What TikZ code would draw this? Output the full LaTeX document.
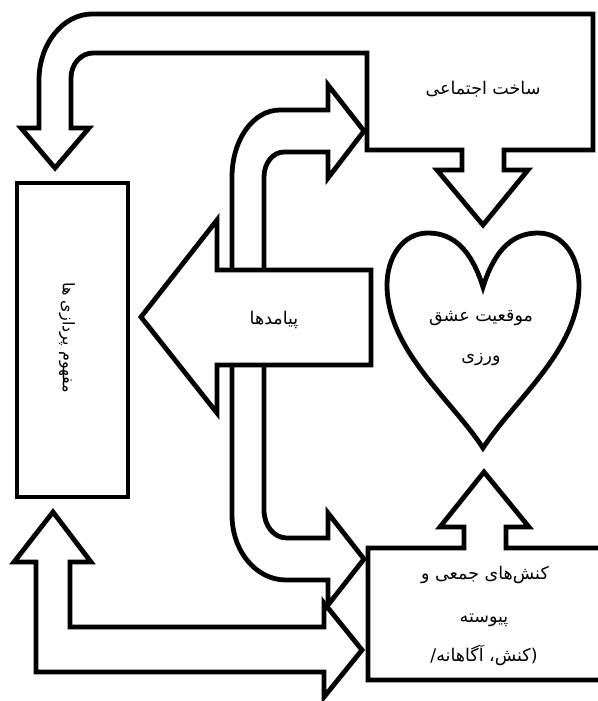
\documentclass[tikz,border=0pt]{standalone}
\usepackage{fontspec}
\newfontfamily\arabicfont[Script=Arabic]{DejaVu Sans}
\TeXXeTstate=1
\begin{document}
\begin{tikzpicture}[x=1pt,y=-1pt,
  ol/.style={draw=black,line width=4.8pt,fill=white,line join=miter,miter limit=10},
  lbl/.style={font=\arabicfont\fontsize{17.5}{20}\selectfont,inner sep=0pt,align=center}]
\useasboundingbox (0,0) rectangle (597,701);
% social structure box with its two outgoing arrows
\draw[ol] (367,53) -- (367,150) -- (462,150) -- (462,170) -- (437,170) -- (483,225) -- (528,170) -- (504,170) -- (504,150) -- (593,150) -- (593,14) -- (92,14) .. controls (63,14) and (39,44) .. (39,80) -- (39,128) -- (21,128) -- (55,168) -- (89,128) -- (71,128) -- (71,78) .. controls (71,64) and (81,53) .. (93,53) -- cycle;
% consequences double bent arrow
\draw[ol] (328,110) -- (280,110) .. controls (253,110) and (232,140) .. (232,177) -- (232,515) .. controls (232,551) and (256,580) .. (286,580) -- (328,580) -- (328,605) -- (364,559) -- (328,513) -- (328,538) -- (287,538) .. controls (274,538) and (264,526) .. (264,510) -- (264,177) .. controls (264,163) and (273,152) .. (284,152) -- (328,152) -- (328,178) -- (364,131) -- (328,85) -- cycle;
% big left arrow
\draw[ol] (371,270) -- (217,270) -- (217,220) -- (141,317) -- (217,413) -- (217,365) -- (371,365) -- cycle;
% U double arrow
\draw[ol] (53,512) -- (91,562) -- (70,562) -- (70,627) -- (324,627) -- (324,603) -- (362,650) -- (324,697) -- (324,672) -- (36,672) -- (36,562) -- (14,562) -- cycle;
% concepts box
\draw[ol] (17,183) rectangle (128,497);
% actions box with upward arrow
\draw[ol] (368,548) -- (464,548) -- (464,527) -- (440,527) -- (484,472) -- (529,527) -- (506,527) -- (506,548) -- (610,548) -- (610,680) -- (368,680) -- cycle;
% heart
\draw[ol] (483,287) .. controls (472,252) and (455,233) .. (428,233) .. controls (402,233) and (387,258) .. (387,285) .. controls (387,350) and (452,400) .. (483,448) .. controls (514,400) and (579,350) .. (579,285) .. controls (579,258) and (564,233) .. (538,233) .. controls (511,233) and (494,252) .. (483,287) -- cycle;
% labels
\node[lbl] (social) at (483,89) {\beginR ساخت اجتماعی\endR};
\node[lbl] (conseq) at (274,320) {\beginR پیامدها\endR};
\node[lbl] (love1) at (481,318) {\beginR موقعیت عشق\endR};
\node[lbl] (love2) at (481,360) {\beginR ورزی\endR};
\node[lbl] (act1) at (485,575) {\beginR کنش‌های جمعی و\endR};
\node[lbl] (act2) at (484,620) {\beginR پیوسته\endR};
\node[lbl] (act3) at (484,655) {\beginR (کنش، آگاهانه/\endR};
\node[lbl,font=\arabicfont\fontsize{16}{18}\selectfont,rotate=-90] (concept) at (67,338) {\beginR مفهوم پردازی ها\endR};
\end{tikzpicture}
\end{document}
